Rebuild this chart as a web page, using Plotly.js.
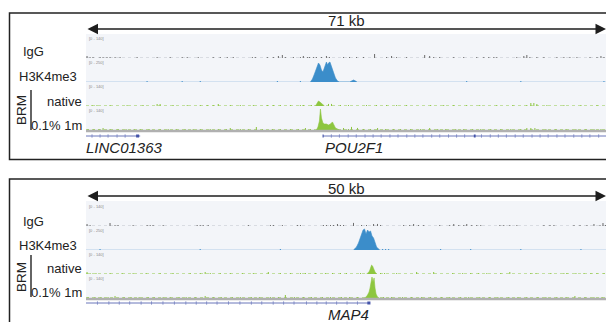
<!DOCTYPE html>
<html><head><meta charset="utf-8">
<script src="https://cdn.plot.ly/plotly-3.0.1.min.js"></script>
<style>html,body{margin:0;padding:0;background:#fff;}#chart{width:606px;height:322px;}</style>
</head><body><div id="chart"></div>
<script>
// ---------------- DATA (genomic position in kb, signal in track units) ----------------
const trackNames = ['IgG', 'H3K4me3', 'native', '0.1% 1m'];
const scaleLabels = ['[0 - 140]', '[0 - 250]', '[0 - 140]', '[0 - 140]'];
const trackMax = [140, 250, 140, 140];
const p1SpanKb = 71, p2SpanKb = 50;
const p1SpanText = '71 kb', p2SpanText = '50 kb';

// Panel 1 (POU2F1 locus)
const p1IgG_x = [0.14,0.55,0.96,1.92,2.33,2.87,3.28,3.97,4.65,6.98,9.71,11.49,13.13,13.82,15.32,17.37,18.33,19.29,20.11,22.71,23.12,24.76,25.58,26.27,26.81,27.22,28.32,29.27,29.68,30.23,30.51,31.05,31.46,32.15,32.83,33.24,35.16,35.98,36.94,37.89,39.40,41.04,41.72,42.41,43.78,46.24,46.92,47.47,48.29,50.21,51.57,53.35,54.31,54.99,55.68,56.09,58.82,59.78,60.19,60.60,61.56,62.52,64.30,65.25,66.07,67.03,68.81,69.77,70.31,70.72];
const p1IgG_y = [12,6,6,6,6,6,6,6,6,6, 6,6,6,6,6,6,6,6,6,6, 6,6,6,12,18,6,6,6,12,6, 6,6,6,6,12,6,6,6,6,6, 23,6,12,6,6,18,12,6,6,6, 6,6,6,6,6,6,6,12,18,6, 6,6,6,6,6,6,6,6,12,6];
const p1H3Peak_x = [30.64,30.92,31.19,31.46,31.74,31.94,32.15,32.35,32.56,32.83,32.97,33.11,33.31,33.52,33.79,34.06,34.34,34.60,36.00,36.25,36.53,36.80,37.00];
const p1H3Peak_y = [0,31,83,146,198,177,125,104,146,208,177,198,208,167,104,42,10,0,0,10,21,10,0];
const p1H3_x = [8.34,13.13,15.60,26.13,29.27,51.98,59.37,70.72];
const p1H3_y = [10,10,10,10,10,10,10,10];
const p1NatPeak_x = [31.33,31.53,31.74,31.94,32.15,32.35,32.56];
const p1NatPeak_y = [0,17,29,23,17,6,0];
const p1Nat_x = [0.82,1.50,3.28,5.61,7.80,9.71,10.12,11.90,13.82,15.60,16.55,17.37,18.06,19.70,21.07,22.85,24.76,25.58,26.54,27.91,29.27,29.68,30.78,33.11,33.52,34.75,35.84,38.30,39.67,41.04,42.41,43.78,47.06,48.84,50.21,51.98,53.76,56.09,58.28,60.19,60.74,61.15,61.56,62.93,65.25,67.58,69.77];
const p1Nat_y = [6,6,6,6,6, 12,12,6,6,6, 6,6,12,6,6, 6,6,6,6,6, 6,6,6,12,12, 6,6,6,6,6, 6,6,6,6,6, 6,6,6,6,6, 17,17,12,6,6, 6,6];
const p1LowPeak_x = [31.46,31.67,31.87,32.01,32.15,32.35,32.56,32.83,33.11,33.38,33.65,33.86,34.06,34.34,34.61];
const p1LowPeak_y = [0,17,52,122,70,41,35,35,29,35,47,29,12,6,0];
const p1Low_x = [0.27,1.09,1.78,2.33,3.28,4.38,5.47,6.57,7.39,8.62,10.12,11.22,12.31,13.54,14.64,15.60,16.96,18.06,19.15,19.70,21.07,22.16,23.26,24.08,25.44,26.54,27.91,29.00,29.96,30.64,35.16,35.84,36.25,37.07,37.89,38.85,39.81,40.90,42.00,42.95,44.32,45.69,46.92,48.02,49.11,50.48,51.57,52.80,53.90,55.27,56.63,58.00,59.37,60.19,60.74,61.29,62.79,64.16,65.53,66.89,68.26,69.36,70.31];
const p1Low_y = [6,6,6,12,6,6,6,6,6,6, 6,6,6,6,6,6,6,6,6,12, 6,6,18,6,6,6,6,6,12,6, 12,6,18,12,6,6,12,6,6,6, 6,6,12,6,6,6,6,6,6,6, 6,6,6,12,12,12,6,6,6,6, 6,6,6];

// Panel 2 (MAP4 locus)
const p2IgG_x = [0.10,0.39,2.31,2.79,3.08,4.53,5.88,6.17,6.45,7.42,10.69,10.98,11.27,11.75,15.61,17.73,18.02,18.88,20.33,20.62,22.83,23.12,23.51,23.80,24.18,24.47,24.76,25.72,26.49,26.97,27.65,28.03,28.32,30.54,31.12,31.50,31.98,32.47,34.01,34.97,35.36,35.84,36.32,36.61,37.09,37.57,37.96,39.79,40.17,40.75,41.43,44.03,44.61,44.99,46.92,47.50,48.17,48.84,49.42,49.71,49.95];
const p2IgG_y = [12,6,18,6,6,6,6,6,6,6, 6,6,6,6,6,6,6,6,6,6, 6,6,6,6,12,6,6,18,6,6, 12,12,6,6,6,12,6,6,6,6, 12,6,6,12,6,6,6,6,6,6, 6,6,6,6,6,6,6,12,6,18, 6];
const p2H3Peak_x = [25.72,25.82,26.01,26.20,26.35,26.49,26.64,26.78,26.93,27.07,27.22,27.36,27.50,27.65,27.79,27.94,28.13,28.25];
const p2H3Peak_y = [0,10,31,73,125,177,208,219,167,208,188,198,146,125,83,31,10,0];
const p2H3_x = [1.35,10.98,18.69,28.52,28.81,29.10,34.10,36.99,41.81,47.59];
const p2H3_y = [10,10,10,10,10,10,10,10,10,10];
const p2NatPeak_x = [26.97,27.12,27.26,27.36,27.46,27.55,27.65,27.79,27.94];
const p2NatPeak_y = [0,6,17,35,52,47,29,12,0];
const p2Nat_x = [0.10,0.39,0.96,2.31,3.47,4.53,5.78,7.13,8.38,10.02,10.98,11.46,11.95,12.91,13.87,15.03,16.09,17.53,18.69,19.65,20.62,21.10,22.06,23.02,23.70,24.47,25.05,26.40,28.32,28.71,29.87,31.79,33.43,35.26,36.22,36.99,37.76,38.54,39.88,40.75,42.77,43.26,44.70,45.95,46.24,47.11,47.88,48.55,49.13,49.81];
const p2Nat_y = [12,6,6,6,6,6,6,6,6,6, 6,12,6,6,6,6,6,12,6,6, 6,6,6,6,6,6,6,6,6,6, 6,12,12,6,6,6,6,6,6,12, 6,6,6,6,6,6,6,6,6,6];
const p2LowPeak_x = [26.78,26.93,27.07,27.22,27.31,27.41,27.50,27.60,27.70,27.79,27.89,28.03,28.18];
const p2LowPeak_y = [0,6,17,35,58,87,122,93,117,58,23,6,0];
const p2Low_x = [0.19,0.87,1.45,2.12,2.79,3.66,4.34,5.11,5.97,6.55,7.42,8.09,8.96,9.63,10.50,11.46,12.24,13.01,14.07,14.84,15.90,16.67,17.73,18.50,19.17,20.04,20.91,21.68,22.74,23.51,24.57,25.34,26.11,28.61,29.38,30.44,31.31,32.27,33.14,34.20,34.97,36.03,36.80,37.86,38.82,39.60,40.66,41.52,42.39,43.45,44.22,45.28,46.15,47.01,47.98,48.84,49.61];
const p2Low_y = [6,6,6,6,12,6,6,6,6,6, 6,6,6,6,6,12,6,6,6,6, 6,6,6,6,18,6,6,6,6,6, 6,6,6,6,6,6,6,6,6,6, 6,6,6,6,6,6,6,6,6,6, 6,6,6,12,6,6,6];

// Gene annotations
const p1GeneNames = ['LINC01363', 'POU2F1'];
const p1GeneStart = [0, 32.35];
const p1GeneEnd = [7.4, 71];
const p1GeneLabelX = [0, 32.6];
const p1ExonStart = [6.84, 32.3, 52.95];
const p1ExonEnd = [7.25, 32.45, 53.2];
const p1GeneTicks = [0.82,1.92,3.01,4.24,5.34,33.5,34.6,35.8,36.9,38.1,39.2,40.3,41.5,42.6,43.8,44.9,46.0,47.2,48.3,49.5,50.6,51.7,54.0,55.2,56.3,57.4,58.6,59.7,60.9,62.0,63.1,64.3,65.4,66.6,67.7,68.8,70.0];
const p2GeneNames = ['MAP4'];
const p2GeneStart = [0];
const p2GeneEnd = [27.3];
const p2GeneLabelX = [25.2];
const p2ExonStart = [27.05];
const p2ExonEnd = [27.35];
const p2GeneTicks = [1.1,2.2,3.2,4.2,5.3,6.3,7.4,8.5,9.6,10.6,11.6,12.6,13.7,14.8,15.9,16.9,18.0,19.0,20.0,21.2,22.2,23.1,24.1,25.1,26.1];

// ---------------- STYLE / LAYOUT ----------------
const W = 606, H = 322;
const py = p => 1 - p / H;
const px = p => p / W;
const FONT = 'Arial, "Liberation Sans", sans-serif';
const colors = ['#6e6e6e', '#3b8dca', '#8dc63f', '#8dc63f'];
const baseColors = ['#bfc3ca', '#b3cce6', '#b3d884', '#a6d46a'];
const geneColor = '#4453a8';

const p1Bands = [[34,58],[58,82],[82,106],[106,130]];
const p2Bands = [[202,226],[226,250],[250,274],[274,298]];
const p1Label = [[21,52,'left'],[17,77,'left'],[84,101,'right'],[84,126,'right']];
const p2Label = [[21,221,'left'],[17,245,'left'],[84,268,'right'],[84,292,'right']];

const panels = [
  {xa:'x', yas:['y','y2','y3','y4'], gy:'y9', span:p1SpanKb, spanText:p1SpanText, bands:p1Bands, labels:p1Label,
   top:13, bottom:159.5, arrowY:29, textY:21, bgTop:34, bgBot:130, gene:[131,141], geneLabelY:147,
   barW:0.14,
   data:[[p1IgG_x,p1IgG_y,null,null],[p1H3_x,p1H3_y,p1H3Peak_x,p1H3Peak_y],[p1Nat_x,p1Nat_y,p1NatPeak_x,p1NatPeak_y],[p1Low_x,p1Low_y,p1LowPeak_x,p1LowPeak_y]],
   genes:{names:p1GeneNames,s:p1GeneStart,e:p1GeneEnd,lx:p1GeneLabelX,es:p1ExonStart,ee:p1ExonEnd,ticks:p1GeneTicks},
   brm:[90,130], brmY:110},
  {xa:'x2', yas:['y5','y6','y7','y8'], gy:'y10', span:p2SpanKb, spanText:p2SpanText, bands:p2Bands, labels:p2Label,
   top:179, bottom:340, arrowY:196, textY:188, bgTop:201, bgBot:298, gene:[299,307], geneLabelY:314,
   barW:0.1,
   data:[[p2IgG_x,p2IgG_y,null,null],[p2H3_x,p2H3_y,p2H3Peak_x,p2H3Peak_y],[p2Nat_x,p2Nat_y,p2NatPeak_x,p2NatPeak_y],[p2Low_x,p2Low_y,p2LowPeak_x,p2LowPeak_y]],
   genes:{names:p2GeneNames,s:p2GeneStart,e:p2GeneEnd,lx:p2GeneLabelX,es:p2ExonStart,ee:p2ExonEnd,ticks:p2GeneTicks},
   brm:[255,297], brmY:277}
];

const traces = [], shapes = [], annotations = [];
const layout = {
  width: W, height: H, margin:{l:0,r:0,t:0,b:0},
  paper_bgcolor:'#ffffff', plot_bgcolor:'rgba(0,0,0,0)', showlegend:false,
  font:{family:FONT, color:'#222'}
};
const axName = a => a === 'y' ? 'yaxis' : 'yaxis' + a.slice(1);
const xName = a => a === 'x' ? 'xaxis' : 'xaxis' + a.slice(1);

panels.forEach((P, pi) => {
  layout[xName(P.xa)] = {domain:[px(86),1], range:[0,P.span], anchor:P.yas[3], visible:false, fixedrange:true};
  shapes.push({type:'rect', xref:P.xa+' domain', x0:0, x1:1, yref:'paper', y0:py(P.bgBot), y1:py(P.bgTop),
    fillcolor:'#f3f5f9', line:{width:0}, layer:'below'});
  P.yas.forEach((ya, ti) => {
    const b = P.bands[ti];
    layout[axName(ya)] = {domain:[py(b[1]), py(b[0])], range:[0, trackMax[ti]], anchor:P.xa, visible:false, fixedrange:true};
    const isDot = ti !== 1;
    shapes.push({type:'line', xref:P.xa+' domain', x0:0, x1:1, yref:ya, y0:0, y1:0,
      line:{color:baseColors[ti], width: ti>=2 ? 1.5 : 1, dash: isDot ? 'dot' : 'solid'}, layer:'below'});
    const d = P.data[ti];
    traces.push({type:'bar', x:d[0], y:d[1], xaxis:P.xa, yaxis:ya, width:P.barW,
      marker:{color:colors[ti], line:{width:0}}, hoverinfo:'skip'});
    if (d[2]) {
      traces.push({type:'scatter', mode:'lines', x:d[2], y:d[3], xaxis:P.xa, yaxis:ya, fill:'tozeroy',
        line:{color:colors[ti], width:0.6}, fillcolor:colors[ti], hoverinfo:'skip'});
    }
    annotations.push({text:scaleLabels[ti], xref:P.xa+' domain', x:0.002, xanchor:'left', yref:ya+' domain', y:1, yanchor:'top',
      showarrow:false, font:{size:4, color:'#8a8a8a'}});
    const L = P.labels[ti];
    annotations.push({text:trackNames[ti], xref:'paper', x:px(L[0]), xanchor:L[2], yref:'paper', y:py(L[1]), yanchor:'middle',
      showarrow:false, font:{size:13, color:'#222', family:FONT}});
  });
  layout[axName(P.gy)] = {domain:[py(P.gene[1]), py(P.gene[0])], range:[-1,1], anchor:P.xa, visible:false, fixedrange:true};
  shapes.push({type:'line', xref:P.xa+' domain', x0:0, x1:1, yref:P.gy+' domain', y0:1, y1:1,
    line:{color:'#b0b0b0', width:2.5}});
  const G = P.genes;
  G.names.forEach((n, gi) => {
    traces.push({type:'scatter', mode:'lines', x:[G.s[gi], G.e[gi]], y:[0,0], xaxis:P.xa, yaxis:P.gy,
      line:{color:geneColor, width:0.8}, hoverinfo:'skip'});
    annotations.push({text:n, xref:P.xa, x:G.lx[gi], xanchor:(pi===1?'center':'left'), xshift:(pi===1?0:-2),
      yref:'paper', y:py(P.geneLabelY), yanchor:'middle',
      showarrow:false, font:{size:15, color:'#222', family:FONT, style:'italic'}});
  });
  G.es.forEach((s, ei) => {
    traces.push({type:'scatter', mode:'lines', x:[s, G.ee[ei]], y:[0,0], xaxis:P.xa, yaxis:P.gy,
      line:{color:geneColor, width:3}, hoverinfo:'skip'});
  });
  traces.push({type:'scatter', mode:'markers', x:G.ticks, y:G.ticks.map(() => 0), xaxis:P.xa, yaxis:P.gy,
    marker:{symbol:'line-ns', size:2.5, line:{width:0.7, color:'#6b78bd'}, color:'#6b78bd'}, hoverinfo:'skip'});
  annotations.push({text:'', xref:P.xa, x:P.span, axref:P.xa, ax:0, yref:'paper', y:py(P.arrowY), ayref:'pixel', ay:0,
    showarrow:true, arrowside:'end+start', arrowhead:2, startarrowhead:2, arrowsize:1.4, startarrowsize:1.4,
    arrowwidth:1.5, arrowcolor:'#1e1e1e', standoff:0, startstandoff:0});
  annotations.push({text:P.spanText, xref:P.xa, x:P.span/2, yref:'paper', y:py(P.textY), yanchor:'middle',
    showarrow:false, font:{size:15, color:'#1e1e1e', family:FONT}});
  shapes.push({type:'line', xref:'paper', yref:'paper', x0:px(31), x1:px(31), y0:py(P.brm[1]), y1:py(P.brm[0]),
    line:{color:'#111', width:1.3}});
  annotations.push({text:'BRM', xref:'paper', x:px(21), xanchor:'center', yref:'paper', y:py(P.brmY), yanchor:'middle', textangle:-90,
    showarrow:false, font:{size:13.5, color:'#222', family:FONT}});
  shapes.push({type:'rect', xref:'paper', yref:'paper', x0:px(9.5), x1:1.02, y0:py(P.bottom), y1:py(P.top),
    line:{color:'#222', width:1.5}, fillcolor:'rgba(0,0,0,0)'});
});

layout.shapes = shapes;
layout.annotations = annotations;
Plotly.newPlot('chart', traces, layout, {staticPlot:true, displayModeBar:false});
</script></body></html>
